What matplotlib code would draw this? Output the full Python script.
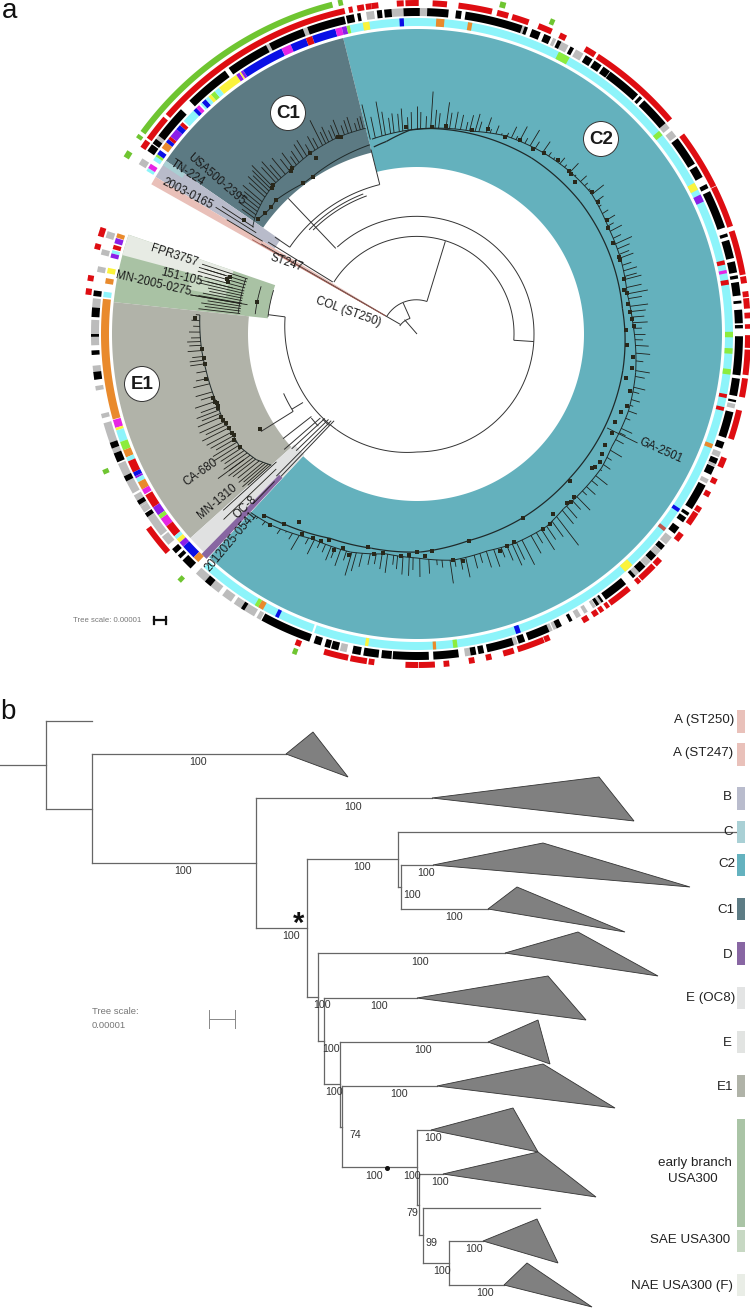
import numpy as np
import matplotlib
matplotlib.use('Agg')
import matplotlib.pyplot as plt

plt.rcParams['font.family'] = ['Liberation Sans', 'DejaVu Sans']

W, H = 750, 1309
CX, CY = 417, 334  # centre of the circular tree, in image pixels

# ---- panel a: coloured clade sectors (start deg, end deg, inner r, outer r, colour)
sector_rows = [
    (-133, 104, 167, 305, '#64b1bd'),      # C2
    (104, 145.4, 187, 305, '#5c7a83'),     # C1
    (145.4, 149, 166, 305, '#b8bbca'),     # B
    (145.4, 146.4, 282, 305, '#a9cfd3'),   # C
    (149, 150.6, 36, 305, '#e9c0b9'),      # A
    (161, 174, 150, 305, '#a9c2a4'),       # early USA300
    (161, 165, 194, 305, '#e7ebe4'),       # F
    (165, 169, 195, 233, '#c9d9c4'),       # SAE
    (174, 222, 169, 305, '#b1b3a9'),       # E1
    (222, 227, 165, 305, '#e0e1e1'),       # E
    (225.6, 226.9, 197, 308, '#8866a2'),   # D
]

# ---- panel a: rings
RING1 = (308, 316)
RING2 = (318, 326)
RING3 = (328, 334)
RING4 = (337, 343)

cyan_base = [(-132.4, -109.4), (-109.0, 102.3)]
ring1_segments = [
    (148.9, 148.3, 'cyan'), (148.3, 147.4, 'magenta'), (146.6, 145.8, 'cyan'), (145.8, 145.3, 'lime'),
    (145.3, 144.4, 'blue'), (143.9, 142.6, 'orange'), (142.6, 141.9, 'blue'), (141.9, 141.3, 'red'),
    (141.3, 139.6, 'purple'), (139.6, 138.6, 'blue'), (138.6, 137.9, 'red'), (137.6, 135.0, 'cyan'),
    (135.0, 134.3, 'blue'), (134.3, 133.6, 'magenta'), (133.3, 132.9, 'cyan'), (132.9, 132.0, 'blue'),
    (132.0, 131.3, 'cyan'), (131.3, 130.7, 'yellow'), (130.7, 129.8, 'lime'), (129.8, 128.8, 'cyan'),
    (128.8, 124.9, 'yellow'), (124.9, 124.2, 'purple'), (124.2, 123.9, 'yellow'), (123.9, 123.4, 'purple'),
    (123.4, 115.4, 'blue'), (115.4, 113.6, 'magenta'), (113.6, 110.6, 'blue'), (110.6, 109.4, 'red'),
    (109.4, 105.0, 'blue'), (105.0, 103.8, 'magenta'), (103.8, 102.9, 'purple'), (102.9, 102.3, 'lime'),
    (99.9, 98.7, 'yellow'), (93.2, 92.4, 'blue'), (86.5, 85.0, 'orange'), (80.7, 79.9, 'orange'),
    (63.3, 61.1, 'lime'), (40.0, 39.0, 'lime'), (28.6, 27.2, 'yellow'), (26.2, 24.8, 'purple'),
    (13.5, 12.7, 'red'), (11.7, 11.1, 'magenta'), (9.9, 9.0, 'red'), (0.4, -0.6, 'lime'),
    (-2.6, -3.6, 'lime'), (-6.4, -7.4, 'lime'), (-11.0, -11.7, 'red'), (-13.4, -14.1, 'red'),
    (-20.4, -21.2, 'orange'), (-33.6, -34.3, 'blue'), (-37.9, -38.6, 'dimred'), (-47.0, -48.8, 'yellow'),
    (-70.8, -71.7, 'blue'), (-82.6, -83.4, 'lime'), (-86.5, -87.1, 'orange'), (-98.9, -99.5, 'yellow'),
    (-116.0, -116.7, 'blue'), (-119.2, -120.2, 'orange'), (-120.2, -120.9, 'lime'),
    (161.4, 162.2, 'orange'), (162.3, 163.3, 'purple'), (163.6, 164.4, 'red'), (164.6, 165.2, 'cyan'),
    (165.2, 166.0, 'purple'), (167.9, 168.9, 'yellow'), (169.8, 170.8, 'orange'), (172.3, 173.3, 'cyan'),
    (173.6, 195.7, 'orange'), (195.8, 197.3, 'magenta'), (197.3, 197.8, 'yellow'), (197.8, 200.0, 'cyan'),
    (200.0, 201.6, 'lime'), (201.6, 203.0, 'orange'), (203.0, 203.8, 'cyan'), (203.8, 206.0, 'red'),
    (206.0, 206.8, 'blue'), (206.8, 207.2, 'purple'), (207.2, 208.0, 'cyan'), (208.0, 209.5, 'orange'),
    (209.5, 210.5, 'magenta'), (210.7, 213.3, 'red'), (213.3, 215.0, 'purple'), (215.0, 215.8, 'lime'),
    (215.8, 217.5, 'magenta'), (217.5, 219.8, 'red'), (219.8, 220.5, 'cyan'), (220.5, 221.3, 'yellow'),
    (221.3, 222.3, 'purple'), (222.3, 225.0, 'blue'), (225.0, 226.2, 'orange'),
]

black_segments = [
    (145.8, 144.4), (144.2, 143.2), (142.5, 136.4), (134.3, 126.1), (125.3, 117.6), (117.0, 110.5), (109.7, 102.9),
    (102.6, 101.2), (100.6, 100.0), (97.1, 96.2), (95.8, 94.5), (92.4, 89.5), (88.2, 84.4), (83.1, 82.1),
    (81.4, 71.1), (70.7, 70.1), (69.3, 67.7), (67.0, 65.7), (64.4, 63.7), (61.9, 61.2), (58.8, 57.4),
    (57.0, 55.5), (55.1, 53.7), (53.6, 47.3), (46.9, 46.3), (45.8, 40.3), (36.9, 31.5), (31.0, 28.8),
    (27.4, 26.6), (26.0, 19.1), (18.0, 17.4), (16.8, 13.5), (12.9, 10.9), (10.4, 9.8), (9.2, 6.8),
    (5.9, 5.4), (4.3, 1.9), (1.6, 1.0), (-0.4, -7.3), (-7.9, -11.0), (-11.7, -12.1), (-13.9, -18.6),
    (-19.4, -20.6), (-22.5, -23.5), (-24.1, -25.6), (-27.7, -32.5), (-33.3, -33.9), (-34.3, -35.3),
    (-36.4, -37.8), (-40.5, -41.5), (-42.8, -44.1), (-45.5, -47.0), (-47.9, -48.5), (-50.1, -54.6),
    (-55.1, -55.5), (-56.0, -56.6), (-61.5, -62.1), (-63.6, -64.6), (-66.0, -70.0), (-70.6, -71.8),
    (-72.7, -77.5), (-78.1, -79.1), (-79.5, -80.5), (-82.6, -87.1), (-87.9, -94.3), (-94.5, -96.3),
    (263.2, 260.5), (260.0, 258.5), (256.0, 254.7), (254.5, 253.5), (252.8, 251.5), (250.7, 241.5),
    (238.0, 237.3), (230.7, 229.4), (226.0, 224.0), (223.5, 222.8), (222.3, 221.3), (214.2, 213.4),
    (211.6, 210.8), (206.9, 205.9), (203.2, 201.5), (200.6, 199.5), (188.1, 186.7), (183.7, 182.9),
    (180.5, 180.0), (177.0, 175.3), (173.3, 172.3),
]
grey_segments = [
    (148.6, 147.4), (143.2, 142.5), (117.6, 117.0), (110.5, 109.7), (99.0, 97.6), (94.8, 92.4), (89.5, 88.2),
    (71.1, 70.7), (65.3, 64.7), (63.9, 62.3), (60.8, 59.3), (40.3, 39.2), (38.6, 37.3), (-12.4, -13.2),
    (-21.2, -22.2), (-23.2, -24.0), (-26.5, -27.3), (-38.6, -40.2), (-41.6, -42.8), (-44.2, -45.4),
    (-47.0, -47.9), (-55.5, -56.0), (-56.7, -57.3), (-58.4, -59.1), (-59.8, -60.7), (-64.6, -65.2),
    (-65.4, -66.0), (-72.0, -72.7), (-80.5, -81.5), (257.5, 256.3), (241.3, 240.5), (240.0, 238.0),
    (237.3, 235.8), (235.2, 233.3), (232.5, 230.7), (229.4, 227.3), (220.3, 218.5), (218.2, 214.2),
    (213.2, 212.0), (212.0, 209.7), (209.3, 206.9), (205.9, 203.5), (201.5, 200.6), (199.5, 195.9),
    (195.0, 194.2), (190.0, 189.2), (186.8, 185.6), (182.0, 180.5), (180.0, 177.5), (175.3, 173.7),
    (169.0, 168.0), (165.9, 164.9), (162.8, 161.6),
]
red_segments = [
    (145.9, 144.4), (144.0, 139.4), (138.8, 102.6), (101.9, 101.2), (100.4, 99.2), (98.9, 97.9), (97.9, 96.7),
    (93.5, 92.3), (92.0, 89.7), (87.3, 84.8), (82.8, 76.9), (76.0, 74.0), (73.3, 70.3), (68.5, 66.0),
    (64.5, 63.3), (59.5, 57.5), (57.0, 40.2), (36.9, 26.4), (26.3, 18.9), (18.1, 10.3), (10.0, 8.8),
    (7.4, 6.4), (6.2, 4.4), (3.7, 2.7), (1.7, 0.9), (-0.2, -2.4), (-2.7, -7.1), (-7.7, -11.0), (-13.3, -18.5),
    (-21.9, -23.7), (-25.8, -26.8), (-28.3, -29.3), (-31.4, -32.4), (-32.6, -35.0), (-37.0, -38.5),
    (-42.8, -44.1), (-44.4, -47.6), (-47.8, -48.6), (-50.2, -54.4), (-54.7, -55.4), (-55.9, -56.7),
    (-57.0, -58.0), (-58.9, -60.0), (-66.4, -67.4), (-67.5, -72.3), (-73.0, -74.9), (-77.0, -78.0),
    (-80.0, -81.0), (-84.4, -85.4), (-86.9, -89.7), (-89.8, -92.0), (262.6, 261.6), (261.3, 258.4),
    (258.0, 253.7), (249.5, 248.5), (221.2, 215.8), (173.2, 172.1), (170.8, 169.8), (165.2, 164.2), (162.9, 161.3),
]
green_segments = [
    (148.8, 147.6), (145.0, 144.3), (143.7, 104.4), (103.4, 102.6), (75.9, 74.9), (67.0, 66.2),
    (204.2, 203.4), (226.5, 225.7), (249.4, 248.6),
]

ring_colors = {'cyan': '#8df4fa', 'black': '#000000', 'grey': '#bcbcbc', 'red': '#de0d12', 'green': '#6fc531',
               'blue': '#0a0fe6', 'magenta': '#e625e4', 'purple': '#8b1fe8', 'yellow': '#fbf33c',
               'orange': '#e98a2c', 'lime': '#8cec3e', 'dimred': '#c0584f'}

# ---- panel a: tree. angle in degrees, r in pixels
c2_tip_angles = [103.5, 102, 100, 99, 97.5, 96.5, 95, 94, 92.5, 91.5, 90, 89, 87.5, 86.2, 85, 84, 82, 81, 79.5, 78,
                 76.5, 75.5, 74, 73, 71, 70, 68.5, 67, 65.5, 64.3, 63, 62, 60.5, 59, 57.5, 55.3, 53.5, 52, 50, 48.5,
                 46.6, 45, 43, 41.5, 40, 38.6, 36.5, 35, 33, 31, 29.5, 28, 26, 24.4, 23, 21.5, 20.5, 18.5, 17, 15.5,
                 14.7, 12.5, 10.8, 9.5, 7.4, 6, 4.5, 3, 1.5, 0, -1.5, -3, -5, -7, -9.5, -11, -13.8, -15, -17, -18.5,
                 -20, -22, -24.8, -26, -28, -31, -33, -35, -36.5, -38.4, -40, -42, -43.5, -45.5, -47, -49, -50.5,
                 -52.6, -54.2, -56, -57.5, -59, -60.5, -63, -64.5, -65.6, -67, -68.5, -70.4, -72.3, -74, -75.5,
                 -77.7, -79, -80.5, -81.7, -83.7, -85, -87, -89.3, -91, -92, -93.6, -95, -96, -97.6, -99, -100.5,
                 -102, -104, -105.5, -106.6, -108, -109.5, -111, -112, -113.5, -115, -116.5, -118, -120.3, -122,
                 -123.5, -125, -127, -129, -131]
c2_tip_radii = [236, 222, 236, 225, 218, 222, 221, 226, 217, 222, 228, 222, 218, 243, 225, 222, 234, 224, 226, 224,
                218, 226, 229, 222, 229, 218, 224, 218, 221, 230, 222, 235, 225, 238, 228, 234, 226, 224, 230, 226,
                235, 225, 232, 228, 226, 239, 232, 225, 228, 231, 226, 232, 227, 236, 231, 228, 231, 226, 230, 228,
                232, 230, 235, 228, 233, 230, 228, 231, 225, 228, 226, 232, 234, 228, 236, 232, 235, 230, 233, 228,
                234, 230, 237, 232, 234, 239, 232, 236, 230, 243, 236, 240, 234, 247, 240, 244, 246, 266, 250, 248,
                256, 244, 252, 259, 250, 254, 246, 240, 247, 245, 238, 242, 249, 240, 236, 252, 235, 232, 240, 243,
                236, 242, 241, 236, 232, 241, 238, 234, 236, 240, 246, 252, 238, 246, 240, 244, 238, 236, 246, 238,
                250, 242, 238, 244, 240, 246, 245]
shelf_angles = [-133, -127, -117, -107, -98, -90, -81, -72, -65, -56, -50, -44, -36, -30, -20, -10, 3, 11, 20, 29,
                39, 47, 55, 66, 75, 90, 103]
shelf_radii = [244, 240, 230, 228, 222, 224, 229, 228, 231, 232, 228, 228, 228, 225, 225, 222, 216, 214, 217, 219,
               224, 223, 221, 217, 210, 205, 200]
back_angles = [-130, -125, -113, -102, -89, -76, -60, -43, -10, 0, 7, 39, 57, 86, 92, 99, 103]
back_radii = [237, 232, 222, 219, 218, 213, 212, 210, 209, 208, 207, 210, 210, 206, 204, 195, 192]

c2_node_angles = [93, 86, 82, 75, 71, 66, 62, 58, 55, 51, 47, 46, 44, 39, 36, 31, 29, 25, 21, 20, 15, 12, 11, 8, 6,
                  4, 2, 1, -3, -6, -9, -12, -15, -19, -21, -24, -27, -30.5, -33, -35, -36.7, -37.5, -44, -46, -47.5,
                  -48.5, -53, -55, -57, -60, -65, -67, -69, -76, -78.5, -81, -86, -88, -90, -92, -94, -98.7, -101,
                  -103, -107, -109, -111, -113, -115, -117, -120, -122, -125, -127.6, -130]
c2_node_radii = [207, 208, 210, 211, 217, 216, 220, 218, 221, 224, 223, 222, 219, 225, 224, 222, 218, 216, 216, 216,
                 214, 212, 214, 213, 214, 216, 217, 209, 210, 217, 218, 214, 220, 222, 218, 217, 219, 218, 221, 223,
                 222, 220, 212, 226, 228, 226, 226, 232, 232, 212, 229, 230, 232, 213, 232, 229, 218, 222, 218, 221,
                 223, 222, 224, 219, 231, 226, 231, 224, 228, 229, 231, 222, 232, 241, 238]

c1_tip_angles = [144.5, 143.5, 142.5, 141.5, 140.5, 139.5, 138, 137, 136, 135.2, 134.4, 133, 132, 131, 129.5, 128,
                 126.7, 125.5, 124.5, 123, 121.8, 120.5, 119, 118, 116.6, 115.6, 114.7, 113.5, 112.5, 111.4, 110,
                 108.9, 107.9, 106.5, 105.5, 104.7]
c1_tip_radii = [215, 222, 218, 226, 224, 229, 226, 231, 228, 232, 236, 228, 232, 224, 228, 222, 226, 218, 222, 226,
                228, 220, 226, 222, 239, 224, 228, 222, 226, 230, 222, 226, 228, 220, 224, 225]
c1_shelf_angles = [104, 112, 120, 127, 134, 139, 144, 147]
c1_shelf_radii = [212, 212, 210, 207, 207, 204, 200, 196]
c1_back_angles = [104, 123.5, 127, 136.5, 139, 141.6, 144]
c1_back_radii = [195, 189, 188.6, 194.5, 193, 194, 196]
c1_node_angles = [144, 141.6, 139, 136.5, 127, 123.5, 120, 120.5, 127, 127.8, 134, 134.8, 146.6, 111, 112]
c1_node_radii = [196, 194, 193, 194.5, 188.6, 188.8, 203, 210.5, 207.7, 206, 207.4, 206, 207, 211, 212]

e1_tip_angles = [175, 176.5, 178, 179.5, 181, 182, 183, 184.4, 186, 187, 188, 190, 192, 193.5, 195.8, 197, 198.5, 200,
                 201, 202, 203, 204.5, 205.5, 206.5, 207.9, 209, 210, 211, 212, 213, 214, 215, 216, 217, 217.8, 218.8,
                 219.8, 220.5, 221.2, 221.8]
e1_tip_radii = [222, 226, 224, 228, 226, 230, 228, 230, 226, 229, 229, 224, 226, 230, 230, 226, 234, 230, 236, 232,
                238, 239, 234, 240, 238, 236, 232, 238, 240, 234, 232, 236, 232, 236, 233, 230, 232, 228, 232, 227]
e1_shelf_angles = [175, 184, 190, 199, 204, 208, 212.5, 218, 222]
e1_shelf_radii = [218, 216, 214, 212, 212, 210, 210, 204, 196]
e1_node_angles = [184, 186.4, 188, 192, 197.5, 198.5, 199, 199.8, 200.5, 203, 204, 205, 206.5, 208, 209, 210, 212.5,
                  211.3, 176]
e1_node_radii = [216, 214, 214, 216, 214, 213, 212, 212, 212, 213, 212, 211, 210, 210, 209, 211, 210, 183.6, 223]

usa_tip_angles = [162, 163, 164, 165, 166, 166.8, 167.6, 168.4, 169.2, 170, 170.2, 171, 171.8, 172.6, 173.4]
usa_tip_radii = [226, 222, 228, 220, 216, 224, 214, 212, 218, 222, 230, 212, 218, 214, 220]
usa_node_angles = [163, 164.5, 163.8, 168.8]
usa_node_radii = [196, 196, 198, 163]

# radial branches (angle, r0, r1) and arcs (a0, a1, r0, r1) of the deep tree
radial_branches = [
    (131, 0, 19), (114, 17, 34), (73, 34, 97), (150, 19, 180), (148.3, 99, 175), (-3.7, 97, 117), (133.5, 118, 187),
    (145.7, 154, 172), (104, 154, 190), (172.6, 133, 150), (218, 134, 170), (221, 128, 176), (222.5, 125, 170),
    (224, 123, 168), (225.3, 122, 200), (226.3, 120, 197), (212, 146, 184), (211, 133, 146),
]
arc_branches = [
    (155, 114, 19, 17), (149.7, 73, 35, 34), (148, -3.7, 98, 97), (145.7, 104, 154, 154), (135, 110, 147, 147),
    (136, 111, 150, 150), (132.5, 0, 118, 117), (0, -90, 117, 118), (-90, -130, 118, 125), (-130, -150, 125, 128),
    (-150, -187.4, 128, 133), (212, 204, 146, 146), (218.5, 223, 135, 135), (222, 226, 127, 127),
]
label_leaders = [(-26.3, 212, 246), (163, 200, 228), (166, 190, 224), (170.2, 172, 230), (149, 180, 222),
                 (147.8, 190, 238), (146.8, 195, 233), (216, 214, 246), (222.3, 190, 262), (223.8, 195, 268),
                 (226, 205, 236)]

circle_labels = [('C1', 288, 113), ('C2', 601, 139), ('E1', 142, 384)]
rotated_labels = [
    ('COL (ST250)', 348, 312, -19.5), ('ST247', 286, 263, -19), ('2003-0165', 187, 194, -27),
    ('TN-224', 187, 173, -33), ('USA500-2395', 216, 179, -41), ('FPR3757', 174, 256, -18),
    ('151-105', 181, 277, -14), ('MN-2005-0275', 153, 284, -13), ('CA-680', 201, 472, 35),
    ('MN-1310', 217, 501, 40), ('OC-8', 245, 507, 44), ('2012025-0541', 231, 541, 50), ('GA-2501', 661, 451, -24),
]

# ---- panel b: rectangular tree
b_segments = [
    (0, 765, 46, 765), (46, 721, 46, 809), (46, 721, 92, 721), (46, 809, 92, 809), (92, 754, 92, 863),
    (92, 754, 286, 754), (92, 863, 256, 863), (256, 798, 256, 928), (256, 798, 432, 798), (256, 928, 307, 928),
    (307, 859, 307, 997), (307, 859, 398, 859), (398, 832, 398, 887), (398, 832, 738, 832), (398, 887, 401, 887),
    (401, 865, 401, 909), (401, 865, 433, 865), (401, 909, 488, 909), (307, 997, 318, 997), (318, 953, 318, 1041),
    (318, 953, 505, 953), (318, 1041, 324, 1041), (324, 998, 324, 1084), (324, 998, 417, 998), (324, 1084, 340, 1084),
    (340, 1042, 340, 1127), (340, 1042, 488, 1042), (340, 1127, 342, 1127), (342, 1086, 342, 1167),
    (342, 1086, 437, 1086), (342, 1167, 417, 1167), (417, 1130, 417, 1205), (417, 1130, 431, 1130),
    (417, 1205, 419, 1205), (419, 1174, 419, 1235), (419, 1174, 443, 1174), (419, 1235, 423, 1235),
    (423, 1208, 423, 1263), (423, 1208, 540, 1208), (423, 1263, 449, 1263), (449, 1241, 449, 1285),
    (449, 1241, 483, 1241), (449, 1285, 504, 1285),
]
b_triangles = [
    [(286, 754), (313, 732), (348, 777)], [(432, 798), (599, 777), (634, 821)], [(433, 865), (543, 843), (690, 887)],
    [(488, 909), (517, 887), (625, 932)], [(505, 953), (578, 932), (658, 976)], [(417, 998), (548, 976), (586, 1020)],
    [(488, 1042), (538, 1020), (550, 1064)], [(437, 1086), (543, 1064), (615, 1108)],
    [(431, 1130), (513, 1108), (538, 1152)], [(443, 1174), (538, 1152), (596, 1197)],
    [(483, 1241), (537, 1219), (558, 1263)], [(504, 1285), (527, 1263), (592, 1307)],
]
b_support = [
    ('100', 198, 762), ('100', 183, 871), ('100', 353, 807), ('100', 362, 867), ('100', 291, 936), ('100', 426, 873),
    ('100', 412, 895), ('100', 454, 917), ('100', 420, 962), ('100', 322, 1005), ('100', 379, 1006), ('100', 331, 1049),
    ('100', 423, 1050), ('100', 334, 1092), ('100', 399, 1094), ('74', 355, 1135), ('100', 433, 1138),
    ('100', 374, 1176), ('100', 412, 1176), ('100', 440, 1182), ('79', 412, 1213), ('99', 431, 1243),
    ('100', 474, 1249), ('100', 442, 1271), ('100', 485, 1293),
]
legend_rows = [
    ('A (ST250)', 734, 720, 710, 733, '#e9c1ba'), ('A (ST247)', 733, 753, 743, 766, '#e9c1ba'),
    ('B', 732, 797, 787, 810, '#b9bccd'), ('C', 733, 832, 821, 843, '#a9d0d5'), ('C2', 735, 864, 854, 876, '#64b2bf'),
    ('C1', 735, 910, 898, 920, '#5d7c85'), ('D', 733, 955, 942, 965, '#8866a3'),
    ('E (OC8)', 735, 998, 987, 1009, '#e3e4e4'), ('E', 732, 1043, 1031, 1053, '#e2e4e2'),
    ('E1', 733, 1087, 1075, 1097, '#b0b3a8'), ('', 0, 0, 1119, 1227, '#aac4a6'),
    ('SAE USA300', 730, 1240, 1230, 1252, '#c7d8c3'), ('NAE USA300 (F)', 733, 1286, 1274, 1296, '#e9ede6'),
]


def to_xy(angle, r):
    a = np.radians(angle)
    return CX + np.multiply(r, np.cos(a)), CY - np.multiply(r, np.sin(a))


def sector(ax, a0, a1, r0, r1, color, zorder=1):
    n = max(int(abs(a1 - a0) * 2), 2)
    aa = np.linspace(a0, a1, n)
    x0, y0 = to_xy(aa, r0)
    x1, y1 = to_xy(aa[::-1], r1)
    ax.fill(np.r_[x0, x1], np.r_[y0, y1], color=color, lw=0, zorder=zorder)


def arc(ax, a0, a1, r0, r1, lw=0.7, color='#333333', zorder=3):
    aa = np.linspace(a0, a1, max(int(abs(a1 - a0) * 2), 2))
    x, y = to_xy(aa, np.linspace(r0, r1, len(aa)))
    ax.plot(x, y, color=color, lw=lw, zorder=zorder, solid_capstyle='butt')


def radial(ax, angle, r0, r1, lw=0.6, color='#1f1f1a', zorder=3):
    x, y = to_xy(angle, np.array([r0, r1]))
    ax.plot(x, y, color=color, lw=lw, zorder=zorder, solid_capstyle='butt')


def polyline(ax, angles, radii, lw=0.7, color='#1f2a2a'):
    for i in range(len(angles) - 1):
        arc(ax, angles[i], angles[i + 1], radii[i], radii[i + 1], lw=lw, color=color)


def tips(ax, angles, radii, shelf_a, shelf_r):
    base = np.interp(angles, shelf_a, shelf_r)
    for a, r, b in zip(angles, radii, base):
        radial(ax, a, b, r)


def nodes(ax, angles, radii):
    x, y = to_xy(np.array(angles), np.array(radii))
    ax.scatter(x, y, marker='s', s=10, color='#29281b', lw=0, zorder=4)


fig = plt.figure(figsize=(W / 100, H / 100), dpi=100)
ax = fig.add_axes([0, 0, 1, 1])
ax.set_xlim(0, W)
ax.set_ylim(H, 0)
ax.axis('off')

# panel a
for a0, a1, r0, r1, c in sector_rows:
    sector(ax, a0, a1, r0, r1, c)

for a0, a1 in cyan_base:
    sector(ax, a0, a1, *RING1, ring_colors['cyan'])
for a0, a1, key in ring1_segments:
    sector(ax, a0, a1, *RING1, ring_colors[key], zorder=2)
for a0, a1 in grey_segments:
    sector(ax, a0, a1, *RING2, ring_colors['grey'])
for a0, a1 in black_segments:
    sector(ax, a0, a1, *RING2, ring_colors['black'], zorder=2)
for a0, a1 in red_segments:
    sector(ax, a0, a1, *RING3, ring_colors['red'])
for a0, a1 in green_segments:
    sector(ax, a0, a1, *RING4, ring_colors['green'])

for row in radial_branches:
    radial(ax, *row, lw=0.7, color='#333333')
for row in arc_branches:
    arc(ax, *row, lw=0.7)
radial(ax, 150.2, 36, 190, lw=0.6, color='#a05a50')

polyline(ax, back_angles, back_radii, lw=0.9)
polyline(ax, shelf_angles, shelf_radii, lw=0.7)
polyline(ax, c1_back_angles, c1_back_radii, lw=0.7)
polyline(ax, c1_shelf_angles, c1_shelf_radii, lw=0.6)
polyline(ax, e1_shelf_angles, e1_shelf_radii, lw=0.7)
tips(ax, c2_tip_angles, c2_tip_radii, shelf_angles, shelf_radii)
tips(ax, c1_tip_angles, c1_tip_radii, c1_shelf_angles, c1_shelf_radii)
tips(ax, e1_tip_angles, e1_tip_radii, e1_shelf_angles, e1_shelf_radii)
for a, r in zip(usa_tip_angles, usa_tip_radii):
    radial(ax, a, 178, r)
arc(ax, 162, 173.4, 180, 180, lw=0.6, color='#222222')
arc(ax, 163, 173, 163, 163, lw=0.6, color='#222222')
arc(ax, 163, 173.4, 150, 150, lw=0.6, color='#222222')
for a, r0, r1 in label_leaders:
    radial(ax, a, r0, r1, lw=0.6)
nodes(ax, c2_node_angles, c2_node_radii)
nodes(ax, c1_node_angles, c1_node_radii)
nodes(ax, e1_node_angles, e1_node_radii)
nodes(ax, usa_node_angles, usa_node_radii)

for txt, x, y, rot in rotated_labels:
    ax.text(x, y, txt, fontsize=8.3, rotation=rot, rotation_mode='anchor', ha='center', va='center',
            color='#1a1a1a', zorder=6)
for txt, x, y in circle_labels:
    ax.add_patch(plt.Circle((x, y), 17.5, fc='white', ec='#333333', lw=0.7, zorder=6))
    ax.text(x, y + 0.5, txt, fontsize=13.5, fontweight='bold', ha='center', va='center', color='#1a1a1a', zorder=7)

ax.text(73, 620, 'Tree scale: 0.00001', fontsize=5.6, color='#777777', ha='left', va='center')
ax.plot([154, 166], [620, 620], color='#111111', lw=1.6)
ax.plot([154, 154], [616.5, 623.5], color='#111111', lw=1.6)
ax.plot([166, 166], [616.5, 623.5], color='#111111', lw=1.6)

ax.text(2, 18, 'a', fontsize=20, ha='left', va='baseline', color='#111111')
ax.text(0, 719, 'b', fontsize=20, ha='left', va='baseline', color='#111111')

# panel b
for x0, y0, x1, y1 in b_segments:
    ax.plot([x0, x1], [y0, y1], color='#666666', lw=0.9, solid_capstyle='projecting')
for tri in b_triangles:
    ax.fill(*zip(*tri), fc='#808080', ec='#333333', lw=0.6, zorder=3)
for txt, x, y in b_support:
    ax.text(x, y, txt, fontsize=7.7, ha='center', va='center', color='#333333', zorder=5)
ax.plot([387], [1168], marker='o', ms=2.6, color='#111111', lw=0)
ax.text(299, 924, '*', fontsize=21, fontweight='bold', ha='center', va='center', color='#111111')

for txt, xr, yt, y0, y1, c in legend_rows:
    ax.fill([737, 745, 745, 737], [y0, y0, y1, y1], color=c, lw=0, zorder=4)
    if txt:
        ax.text(xr, yt, txt, fontsize=9.6, ha='right', va='center', color='#222222', zorder=5)
ax.text(732, 1163, 'early branch', fontsize=9.6, ha='right', va='center', color='#222222')
ax.text(693, 1179, 'USA300', fontsize=9.6, ha='center', va='center', color='#222222')

ax.text(92, 1011, 'Tree scale:', fontsize=6.8, color='#777777', ha='left', va='center')
ax.text(92, 1026, '0.00001', fontsize=6.8, color='#777777', ha='left', va='center')
ax.plot([209, 235], [1019, 1019], color='#888888', lw=0.7)
ax.plot([209, 209], [1010, 1028], color='#888888', lw=0.7)
ax.plot([235, 235], [1010, 1028], color='#888888', lw=0.7)

fig.savefig('out.png', dpi=100)
